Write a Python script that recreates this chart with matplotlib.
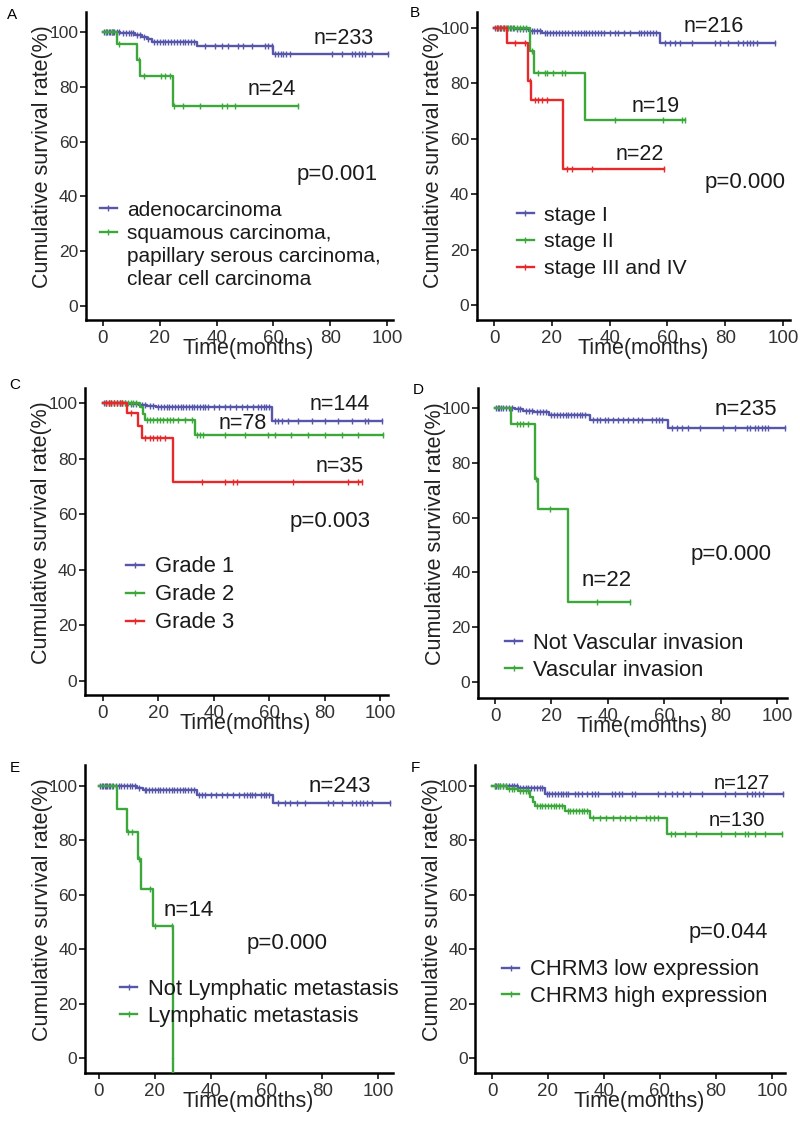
import numpy as np
import matplotlib
matplotlib.use("Agg")
import matplotlib.pyplot as plt
from matplotlib.lines import Line2D

plt.rcParams['font.family'] = ['Liberation Sans', 'DejaVu Sans']

BLUE = '#5656aa'
GREEN = '#3ca83c'
RED = '#e8292b'

# ---------------- data (time in months, survival in %) ----------------
# A: histology
a_blue_t = [6, 11.3, 13.6, 15.4, 17.1, 33, 60]
a_blue_s = [99.5, 98.9, 98.1, 97.3, 96.5, 94.9, 91.9]
a_blue_c = [0.5, 1, 1.5, 2, 2.5, 3, 3.5, 4, 5, 5.5, 7, 8, 9, 10, 10.5, 12, 13, 14.5, 16,
            18, 19, 20, 21, 22, 23, 24, 25, 26, 27, 28, 29, 30, 31, 32,
            35.9, 39.4, 41.8, 44.1, 47.6, 49.4, 52.4, 57, 58, 59.4,
            60.5, 61.5, 62.5, 63.5, 64.5, 66, 80.5, 84, 87.6, 88.8, 90, 91.2, 92.3, 94.6, 100.5]
a_green_t = [5, 12, 13.2, 24.5]
a_green_s = [95.8, 89.8, 84.1, 73.0]
a_green_c = [1, 3, 5.5, 12.5, 14.5, 20.5, 22, 23.5, 25, 28, 34, 42, 43.5, 46.5, 68.7]
a_labels = ['adenocarcinoma', 'squamous carcinoma,', 'papillary serous carcinoma,',
            'clear cell carcinoma']
a_n = ['n=233', 'n=24']
a_p = 'p=0.001'

# B: stage
b_blue_t = [7, 12, 16.5, 57.4]
b_blue_s = [99.5, 99, 98.3, 94.7]
b_blue_c = [0.5, 1.5, 2.5, 3.5, 4.5, 5.5, 6.5, 8, 9, 10, 11, 13, 14, 15, 16,
            17.5, 18.5, 19.5, 20.5, 21.5, 22.5, 23.5, 24.5, 25.5, 27, 28, 29, 30, 31, 32,
            33, 34, 35, 36, 37, 38, 40, 42, 43, 45, 47, 50, 51, 52, 53, 54, 55, 56,
            59.2, 60.9, 62.6, 64.4, 68.4, 76.5, 78.2, 81.1, 84.5, 86.3, 87.4, 88.6,
            89.7, 90.9, 97.2]
b_green_t = [12.5, 14, 31.5]
b_green_s = [91.7, 83.6, 66.8]
b_green_c = [1, 2, 3, 4, 5, 6, 7, 8, 9, 10, 11, 13, 15.2, 17.6, 18.3, 20.4, 23.5, 24.6,
             41.9, 58.5, 65, 66]
b_red_t = [4.6, 11.9, 12.7, 23.8]
b_red_s = [94.7, 81.0, 74.0, 49.0]
b_red_c = [1, 2, 3.5, 7.3, 10.7, 12.3, 14.2, 15.2, 16.5, 18.2, 25.2, 26.9, 33.8, 58.8]
b_labels = ['stage I', 'stage II', 'stage III and IV']
b_n = ['n=216', 'n=19', 'n=22']
b_p = 'p=0.000'

# C: grade
c_blue_t = [9, 13, 16, 19, 60.9]
c_blue_s = [99.6, 99.2, 98.9, 98.5, 93.5]
c_blue_c = [0.5, 1, 2, 3, 4, 5, 6, 7, 8, 10, 11, 12, 14, 15, 17, 18,
            20, 21, 22, 23, 24, 25, 26, 27, 28, 29, 30, 31, 32, 33, 34, 35, 36, 37, 38,
            40, 42, 44, 46, 48, 50, 52, 54, 56, 57, 58, 59, 60,
            62, 63.3, 64.5, 66.9, 70.5, 75.3, 80.1, 85, 89.8, 94.6, 95.8, 100.6]
c_green_t = [13.4, 14.5, 15, 33.2]
c_green_s = [98.6, 96.2, 93.9, 88.5]
c_green_c = [1, 2, 3, 4, 5, 6, 7, 8, 9, 10, 11, 12, 15.8, 17, 18.2, 19.4, 20.6, 21.8, 23,
             24.2, 25.4, 27.2, 29.6, 32, 33.8, 35, 36.2, 44, 51.3, 59.7, 62, 68, 74, 80,
             86.2, 92.2, 101]
c_red_t = [8.5, 12.7, 14, 25.4]
c_red_s = [96.3, 91.8, 87.5, 71.5]
c_red_c = [1, 2, 3, 4, 5, 6, 7, 10, 15.2, 17, 18.2, 19.4, 20.6, 22.4,
           35.6, 44, 47, 48.3, 68.7, 88.6, 92.2, 93.4]
c_labels = ['Grade 1', 'Grade 2', 'Grade 3']
c_n = ['n=144', 'n=78', 'n=35']
c_p = 'p=0.003'

# D: vascular invasion
d_blue_t = [7, 10, 14, 19, 33.7, 61.2]
d_blue_s = [99.5, 99, 98.5, 97.4, 95.6, 92.6]
d_blue_c = [0.5, 1, 1.5, 2, 3, 4, 5, 6, 8, 9, 11, 12, 13, 15, 16, 17, 18,
            20, 21, 22, 23, 24, 25, 26, 27, 28, 29, 30, 31, 32,
            34.8, 36, 37.2, 39, 40.2, 42, 43.7, 45.5, 47.3, 49, 50.8, 52, 55.6, 57, 58, 59.1,
            62.6, 64.4, 66.2, 68.5, 72.7, 81, 85.1, 89.3, 90.4, 92.2, 93.4, 94.6, 95.7,
            96.9, 102.8]
d_green_t = [5.6, 14.2, 15.1, 25.8]
d_green_s = [94.1, 74.0, 63.0, 29.2]
d_green_c = [7.7, 8.9, 10, 11.8, 14.5, 19.5, 36, 47.9]
d_labels = ['Not Vascular invasion', 'Vascular invasion']
d_n = ['n=235', 'n=22']
d_p = 'p=0.000'

# E: lymphatic metastasis
e_blue_t = [13.5, 15.9, 35, 62.5]
e_blue_s = [99.4, 98.5, 96.7, 93.6]
e_blue_c = [0.5, 1, 1.5, 2, 2.5, 3, 3.5, 4, 5, 6, 7, 8, 9, 10, 11, 12, 13, 14.5,
            16.5, 17, 18, 19, 20, 21, 22, 23, 24, 25, 26, 27, 28, 29, 30, 31, 32, 33, 34,
            36, 37, 38, 40, 42, 44, 46, 48, 50, 52, 53, 54, 55, 56, 58, 59, 60, 61,
            64.3, 66.7, 68.5, 70.9, 73.8, 82.2, 84, 87, 90.6, 92, 93.4, 94.8, 96.2, 97.7,
            104.3]
e_green_t = [6.6, 9.9, 14.1, 15, 19.5, 26.6]
e_green_s = [91.4, 83.0, 73.0, 62.1, 48.6, 0.0]
e_green_c = [4.5, 10.5, 11.7, 14.4, 18.3, 20, 26]
e_labels = ['Not Lymphatic metastasis', 'Lymphatic metastasis']
e_n = ['n=243', 'n=14']
e_p = 'p=0.000'

# F: CHRM3 expression
f_blue_t = [9.4, 18.9]
f_blue_s = [99.1, 97.1]
f_blue_c = [1, 1.5, 2, 3, 4, 5, 6, 7, 8, 9, 10, 11, 12, 13, 14, 15, 16, 17, 18,
            19.5, 20.5, 21.5, 22.5, 23.5, 24.5, 25.5, 26.5, 27.3, 29.6, 30.8, 32, 33.8,
            35.6, 36.8, 38, 42.8, 44, 45.2, 46.3, 49.9, 51.1, 59.4, 61.8, 64.2, 66, 68.3,
            70.7, 74.9, 83.2, 86.8, 91, 92.7, 94, 95.4, 96.9, 104]
f_green_t = [5.2, 9.4, 13.6, 14.8, 15.4, 26, 35, 62.4]
f_green_s = [98.8, 98.3, 96.1, 94.2, 92.6, 90.8, 88.1, 82.4]
f_green_c = [1, 2, 3, 4, 5, 6, 7, 8, 10, 11, 12, 13, 16, 17, 18, 19, 20, 21, 22, 23, 24, 25,
             27, 28, 29, 30, 31, 32, 33, 34, 36.1, 38.5, 40.8, 43.2, 45.6, 47.4, 49.2, 51.5,
             55.1, 56.5, 58, 59.3, 64, 65.2, 68.8, 73, 81.9, 86.8, 90.4, 91.5, 93.9, 97.5,
             103.5]
f_labels = ['CHRM3 low expression', 'CHRM3 high expression']
f_n = ['n=127', 'n=130']
f_p = 'p=0.044'

W, H = 800, 1133
fig = plt.figure(figsize=(W / 100, H / 100), dpi=100)

N_FS = 15.5
P_FS = 16


def make_axes(x0, x100, y0, y100, xlim, ylim):
    # pixel positions of the 0 and 100 ticks -> axes rectangle
    sx = (x100 - x0) / 100
    sy = (y0 - y100) / 100
    left = x0 + xlim[0] * sx
    right = x0 + xlim[1] * sx
    bot = y0 - ylim[0] * sy
    top = y0 - ylim[1] * sy
    ax = fig.add_axes([left / W, (H - bot) / H, (right - left) / W, (bot - top) / H])
    ax.set_xlim(*xlim)
    ax.set_ylim(*ylim)
    for s in ['top', 'right']:
        ax.spines[s].set_visible(False)
    for s in ['left', 'bottom']:
        ax.spines[s].set_linewidth(1.8)
    ax.set_xticks(range(0, 101, 20))
    ax.set_yticks(range(0, 101, 20))
    ax.tick_params(axis='both', direction='out', length=4.5, width=1.4, colors='#333333')
    ax.tick_params(axis='y', labelsize=12.5, pad=1)
    ax.tick_params(axis='x', labelsize=13.5, pad=3)
    ax.set_ylabel('Cumulative survival rate(%)', fontsize=15.5, color='#222222')
    ax.yaxis.set_label_coords(-43 / (right - left), 0.53)
    ax.yaxis.label.set_va('center')
    ax.set_xlabel('Time(months)', fontsize=15.5, color='#222222')
    ax.xaxis.set_label_coords(0.53, -29 / (bot - top))
    ax.xaxis.label.set_va('center')
    return ax


def km(ax, t, s, cens, color):
    t = np.asarray(t, float)
    s = np.asarray(s, float)
    cens = np.asarray(cens, float)
    end = max(cens.max(), t.max())
    x = np.r_[0, t, end]
    y = np.r_[100, s, s[-1]]
    ax.step(x, y, where='post', color=color, lw=1.7, zorder=3)
    lev = np.r_[100, s][np.searchsorted(t, cens, side='right')]
    ax.plot(cens, lev, ls='none', marker='|', ms=4.5, mew=1.0, color=color, zorder=3)
    if s[-1] == 0:
        ax.vlines(t[-1], ax.get_ylim()[0], 0, color=color, lw=1.7, zorder=3)


def legend(ax, labels, colors, x, y, fs, spacing):
    hs = []
    for c in colors:
        if c is None:
            hs.append(Line2D([], [], color='none'))
        else:
            hs.append(Line2D([], [], color=c, lw=1.7, marker='|', ms=4.5, mew=1.0))
    ax.legend(hs, labels, loc='center left', bbox_to_anchor=(x, y),
              bbox_transform=ax.transData, frameon=False, fontsize=fs,
              handlelength=0.8, handletextpad=0.5, labelspacing=spacing,
              borderpad=0, borderaxespad=0, numpoints=1, labelcolor='#1a1a1a')


def txt(ax, x, y, s, fs):
    ax.text(x, y, s, ha='left', va='center', fontsize=fs, color='#1a1a1a')


# ---------------- A ----------------
ax = make_axes(103, 387, 306, 32, (-6, 102), (-5.1, 107.3))
km(ax, a_blue_t, a_blue_s, a_blue_c, BLUE)
km(ax, a_green_t, a_green_s, a_green_c, GREEN)
txt(ax, 74, 97.5, a_n[0], N_FS)
txt(ax, 51, 79, a_n[1], N_FS)
txt(ax, 68, 48, a_p, P_FS)
legend(ax, a_labels, [BLUE, GREEN, None, None], -1, 22.3, 15, 0.2)
fig.text(12 / W, 1 - 15 / H, 'A', fontsize=11, ha='center', va='center')

# ---------------- B ----------------
ax = make_axes(494, 783, 305, 28, (-5.9, 102.4), (-5.4, 105.8))
km(ax, b_blue_t, b_blue_s, b_blue_c, BLUE)
km(ax, b_green_t, b_green_s, b_green_c, GREEN)
km(ax, b_red_t, b_red_s, b_red_c, RED)
txt(ax, 65.5, 100.7, b_n[0], N_FS)
txt(ax, 47.6, 71.8, b_n[1], N_FS)
txt(ax, 41.9, 54.5, b_n[2], N_FS)
txt(ax, 73, 44.3, b_p, P_FS)
legend(ax, b_labels, [BLUE, GREEN, RED], 7.8, 22.8, 15.3, 0.36)
fig.text(415 / W, 1 - 13 / H, 'B', fontsize=11, ha='center', va='center')

# ---------------- C ----------------
ax = make_axes(103, 380, 681, 403, (-6.5, 102.9), (-5, 105.4))
km(ax, c_blue_t, c_blue_s, c_blue_c, BLUE)
km(ax, c_green_t, c_green_s, c_green_c, GREEN)
km(ax, c_red_t, c_red_s, c_red_c, RED)
txt(ax, 74.7, 99.3, c_n[0], N_FS)
txt(ax, 41.6, 92.7, c_n[1], N_FS)
txt(ax, 76.9, 77.1, c_n[2], N_FS)
txt(ax, 67.5, 57.3, c_p, P_FS)
legend(ax, c_labels, [BLUE, GREEN, RED], 8.3, 31.0, 15.8, 0.32)
fig.text(15 / W, 1 - 385 / H, 'C', fontsize=11, ha='center', va='center')

# ---------------- D ----------------
ax = make_axes(495, 777, 682, 408, (-6, 103.5), (-5.8, 107.3))
km(ax, d_blue_t, d_blue_s, d_blue_c, BLUE)
km(ax, d_green_t, d_green_s, d_green_c, GREEN)
txt(ax, 78, 99.3, d_n[0], 16)
txt(ax, 30.7, 37.2, d_n[1], 16)
txt(ax, 69.5, 46.4, d_p, P_FS)
legend(ax, d_labels, [BLUE, GREEN], 3.5, 9.2, 15.8, 0.25)
fig.text(418 / W, 1 - 390 / H, 'D', fontsize=11, ha='center', va='center')

# ---------------- E ----------------
ax = make_axes(99, 378, 1058, 786, (-5, 105.4), (-5.5, 107.7))
km(ax, e_blue_t, e_blue_s, e_blue_c, BLUE)
km(ax, e_green_t, e_green_s, e_green_c, GREEN)
txt(ax, 75.2, 100, e_n[0], 16)
txt(ax, 23.3, 54.4, e_n[1], 16)
txt(ax, 52.9, 42.2, e_p, P_FS)
legend(ax, e_labels, [BLUE, GREEN], 7.5, 20.3, 15.8, 0.25)
fig.text(15 / W, 1 - 768 / H, 'E', fontsize=11, ha='center', va='center')

# ---------------- F ----------------
ax = make_axes(492, 772, 1058, 786, (-6, 104.6), (-5.5, 107.7))
km(ax, f_blue_t, f_blue_s, f_blue_c, BLUE)
km(ax, f_green_t, f_green_s, f_green_c, GREEN)
txt(ax, 79, 101, f_n[0], 14.5)
txt(ax, 77.3, 87.5, f_n[1], 14.5)
txt(ax, 70.1, 46.1, f_p, 15.7)
legend(ax, f_labels, [BLUE, GREEN], 3.5, 27.5, 15.8, 0.25)
fig.text(415 / W, 1 - 768 / H, 'F', fontsize=11, ha='center', va='center')

fig.savefig('out.png', dpi=100, facecolor='white')
